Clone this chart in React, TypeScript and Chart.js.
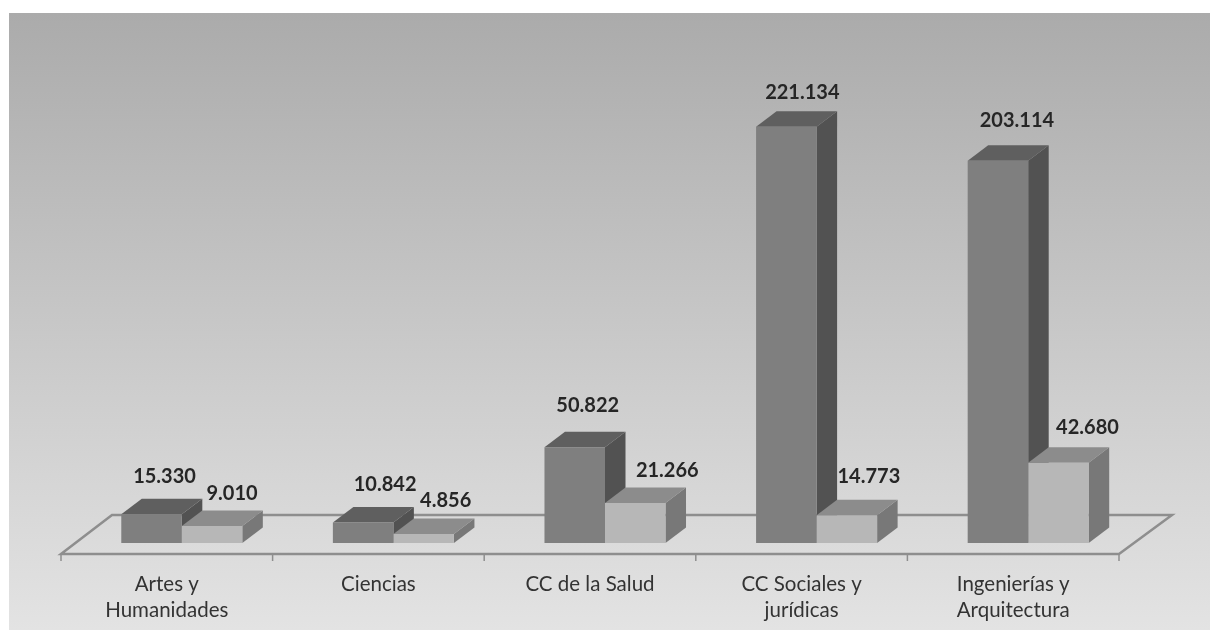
import React, { useEffect, useRef } from "react";
import { Chart, registerables } from "chart.js";

Chart.register(...registerables);

const categories = [
  ["Artes y", "Humanidades"],
  ["Ciencias"],
  ["CC de la Salud"],
  ["CC Sociales y", "jurídicas"],
  ["Ingenierías y", "Arquitectura"],
];
const seriesA = [15330, 10842, 50822, 221134, 203114];
const seriesB = [9010, 4856, 21266, 14773, 42680];

// label nudges relative to each bar's top centre
const labelOffsetsA = [[13, -38], [22, -38], [13, -42], [16, -34], [19, -40]];
const labelOffsetsB = [[20, -33], [22, -33], [32, -32], [22, -39], [29, -35]];

const FONT = "Lato, 'Open Sans', sans-serif";
const DX = 20.5;
const DY = 15.5;
const SHIFT = 15;

const faces = [
  { front: "#7f7f7f", top: "#5f5f5f", side: "#525252" },
  { front: "#b7b7b7", top: "#8c8c8c", side: "#787878" },
];

const fmt = (v: number) => {
  const s = String(v);
  return s.slice(0, s.length - 3) + "." + s.slice(-3);
};

const scene = {
  id: "scene",
  beforeDraw(chart: any) {
    const { ctx, width, height } = chart;
    const g = ctx.createLinearGradient(0, 13, 0, height);
    g.addColorStop(0, "#ababab");
    g.addColorStop(1, "#e3e3e3");
    ctx.save();
    ctx.fillStyle = g;
    ctx.fillRect(9, 13, width - 9, height - 13);
    ctx.restore();
  },
  beforeDatasetsDraw(chart: any) {
    const { ctx, chartArea, scales } = chart;
    const l = chartArea.left;
    const r = chartArea.right;
    const b = chartArea.bottom;
    const back = b - 39;
    ctx.save();
    ctx.strokeStyle = "#8e8e8e";
    ctx.lineWidth = 2.5;
    ctx.beginPath();
    ctx.moveTo(l, b);
    ctx.lineTo(l + 51, back);
    ctx.lineTo(r + 53, back);
    ctx.lineTo(r, b);
    ctx.closePath();
    ctx.stroke();
    ctx.lineWidth = 1.5;
    ctx.beginPath();
    ctx.moveTo(l, b);
    ctx.lineTo(l, b + 7);
    const step = (r - l) / categories.length;
    categories.forEach((_, i) => {
      const x = scales.x.getPixelForTick(i) + step / 2;
      ctx.moveTo(x, b);
      ctx.lineTo(x, b + 7);
    });
    ctx.stroke();
    ctx.restore();
    ctx.save();
    ctx.translate(SHIFT, 0);
    // extruded faces, drawn from the bar elements the library laid out
    [0, 1].forEach((d) => {
      const meta = chart.getDatasetMeta(d);
      meta.data.forEach((bar: any) => {
        const p = bar.getProps(["x", "y", "base", "width"], true);
        const x0 = p.x - p.width / 2;
        const x1 = p.x + p.width / 2;
        ctx.fillStyle = faces[d].side;
        ctx.beginPath();
        ctx.moveTo(x1, p.y);
        ctx.lineTo(x1 + DX, p.y - DY);
        ctx.lineTo(x1 + DX, p.base - DY);
        ctx.lineTo(x1, p.base);
        ctx.closePath();
        ctx.fill();
        ctx.fillStyle = faces[d].top;
        ctx.beginPath();
        ctx.moveTo(x0, p.y);
        ctx.lineTo(x0 + DX, p.y - DY);
        ctx.lineTo(x1 + DX, p.y - DY);
        ctx.lineTo(x1, p.y);
        ctx.closePath();
        ctx.fill();
      });
    });
  },
  afterDatasetsDraw(chart: any) {
    const { ctx } = chart;
    ctx.restore();
    ctx.save();
    ctx.font = `bold 20px ${FONT}`;
    ctx.fillStyle = "#262626";
    ctx.textAlign = "center";
    ctx.textBaseline = "middle";
    [labelOffsetsA, labelOffsetsB].forEach((offsets, d) => {
      chart.getDatasetMeta(d).data.forEach((bar: any, i: number) => {
        const p = bar.getProps(["x", "y"], true);
        const v = chart.data.datasets[d].data[i];
        ctx.fillText(fmt(v), p.x + SHIFT + offsets[i][0], p.y + offsets[i][1]);
      });
    });
    ctx.restore();
  },
};

export default function App() {
  const ref = useRef<HTMLCanvasElement>(null);
  useEffect(() => {
    document.body.style.margin = "0";
    const chart = new Chart(ref.current as HTMLCanvasElement, {
      type: "bar",
      data: {
        labels: categories,
        datasets: [
          { label: "A", data: seriesA, backgroundColor: faces[0].front },
          { label: "B", data: seriesB, backgroundColor: faces[1].front },
        ],
      },
      options: {
        responsive: false,
        animation: false,
        layout: { padding: { left: 61, right: 91, top: 30, bottom: 0 } },
        plugins: { legend: { display: false }, tooltip: { enabled: false } },
        scales: {
          x: {
            grid: { display: false },
            border: { display: false },
            ticks: {
              maxRotation: 0,
              autoSkip: false,
              padding: 9,
              color: "#333333",
              font: { family: FONT, size: 20.5, lineHeight: 1.29 },
            },
            afterFit(scale: any) {
              scale.height = 76;
            },
          },
          y: { display: false, min: -5830, max: 272570 },
        },
        datasets: { bar: { categoryPercentage: 0.572, barPercentage: 1 } },
      } as any,
      plugins: [scene],
    });
    return () => chart.destroy();
  }, []);
  return <canvas ref={ref} width={1210} height={630} style={{ display: "block" }} />;
}
